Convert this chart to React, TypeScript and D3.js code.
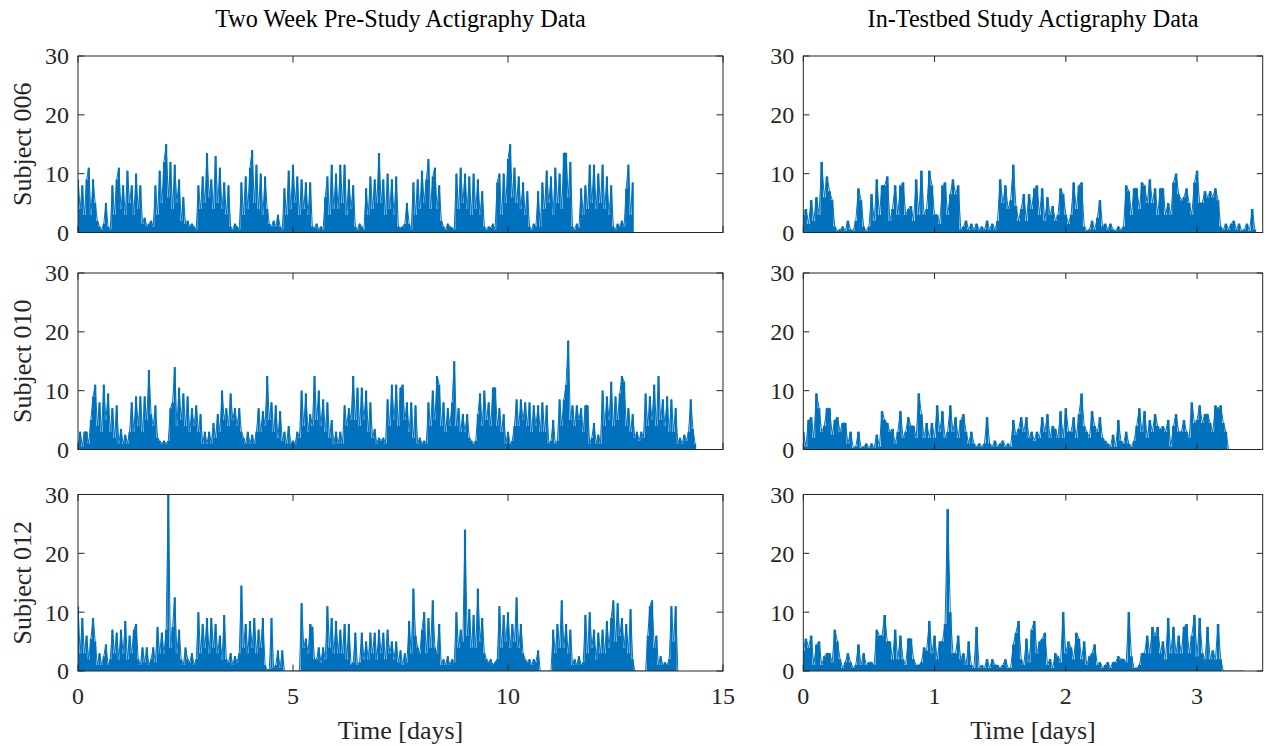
import React from "react";
import * as d3 from "d3";

// ---- data (activity counts, sampled at a fixed step in days) ----
const PRE_STEP = 0.05;
const TESTBED_STEP = 0.02;

const preStudy006: number[] = [
  9,4,8,3,9,11,3,9,5,2, 1,0.5,1.5,5,1,0.5, 8,3,9,11,
  4,8,3,10.5,5,8,3,10,4,8, 1.5,2.5,1,1.5,2,1, 8,3,10.5,5,
  12,15,6,12,4,11.5,5,9,2,6, 1.5,2,1,1.5,1,0.5, 8,4,9.5,5,
  13.5,6,9,4,13,5,11,4,8.5,3,8, 1,0.5,1.5,1,0.5, 8.5,3,9.5,4,
  11,14,5,11.5,4,10,3,9.5,4,1.5, 1,2,1,3,1,0.5, 7.5,3,10.5,4,
  11.5,5,9.5,3,9,4,8.5,3,8.5,1, 0.8,1.5,0.5,1,0.5, 6,9.5,3,11.5,4,
  10,4,11.5,5,11.5,3,9,4,8, 1,0.5,1.5,1,0.5, 7.5,3,9.5,4,9,5,
  13.5,5,9,3,10,4,9,3,9.5, 1,0.8,1,1.5,5,1.5,0.5, 8.5,3,9,4,
  10.5,5,9,12.5,4,9.5,11,4,8,2, 1,0.5,1.5,1,0.8,0.5, 10,4,11,5,
  10,4,9.5,3,10,4,9,3,7, 1,0.5,1,0.8,1.5,0.5, 8.5,10,3,10,5,
  12.5,15,6,11,5,9.5,4,8.5,3,7, 1,0.5,1.5,1,7,1, 8.5,4,10.5,5,
  9.5,3,11,5,10,4,13.5,13.5,6,12, 1,0.5,1.5,0.8, 7.5,3,8,4,11.5,5,
  11.5,4,10,5,11.5,4,9.5,3,8, 1,0.5,1.5,1,2,1, 7.5,11.5,3,8.5,
];

const preStudy010: number[] = [
  0.5,3,0.5,3,3,1,5,9,11,4,8,3,11,5,9.5,3,7,2,7.5,1,
  3.5,1,2.5,1,3,8,3,9,4,9,3,9,5,13.5,6,4,7.5,2,1.5,1,
  1.5,1,1.5,7,8,14,4,10.5,5,9.5,4,9,3,7,4,7.5,3,6,1,3,
  1,3,1,4.5,2,6,3,10,5,7,4,9.5,5,7,4,7,3,2,1,3,
  1,2.5,1,3,7,3,6.5,4,12.5,5,8,3,7.5,2,6.5,1.5,3,1,4,1,
  1.5,1,3,2,10,4,9.5,3,6,4,12.5,5,10,4,8.5,3,8,2,5,1,
  3,1,3,1,7.5,4,7,5,12.5,5,10.5,4,10.5,5,10,3,8,2,3.5,1,
  2,1.5,2,1,8.5,4,11,5,11,4,10.5,11,5,8,3,8,2,7.5,1,2,
  1,1.5,1,8,4,10,5,12.5,11,4,8,3,7,4,8,15,4,7,3,6,
  3,6,2,1.5,1,1.5,6,9.5,4,10,5,8,4,10.5,10.5,4,7,3,6,1,
  3,1,1.5,4,8.5,4,8.5,5,8,4,8,3,7.5,4,7.5,3,8,3,7.5,1,
  1.5,5,1,1.5,8.5,4,8.5,11,18.5,5,7.5,4,7.5,5,7,3,7.5,7.5,1,2,
  4.5,1,2.5,1,10,4,9,5,11.5,4,9,5,9.5,12.5,11.5,4,7,3,6,2,
  3,1.5,3,2,9.5,4,9,5,11,4,12.5,5,8.5,4,9,3,8.5,3,7,1,
  2,1,2.5,1.5,3,8.5,3.5,1,
];

const preStudy012: number[] = [
  11,3,9,3,6,2,5.5,9,5,1,3,1,2.5,4.5,1,2,7,3,6.5,2,
  7,3,8.5,2,6,3,7,8,2,1,4,1.5,4,1,2,4,1.5,7.5,3,6.5,
  3,7,30,4,7.5,12.5,3,7,2,1,4,2,1.5,3,1,2,10,3,8,4,
  9,3,9,4,8,3,6,2,9.5,2,1.5,3,1,2.5,1.5,3,14.5,4,8,3,
  8.5,4,9,3,7,4,9,1,0.2,0.3,9,0.5,1,3.5,0.5,3.5,0,0,0,0,
  0,0,0,0,11.5,4,5.5,3,8,7.5,2,2,4,1.5,4,2,11,4,9,3,
  8.5,3,7,3,8,2,8,1,1.5,6.5,1,1.5,6.5,2,5,2,6.5,3,6.5,2,
  7,3,6.5,2,7,3,5,2,5,1.5,3.5,1,3,1.5,8.5,3,14,6,4,3,
  7,10,3,9,4,12,4,3,8,1,2,1,2.5,1,2,1.5,10,4,7,5,
  24,6,10.5,4,9.5,4,14,5,9,3,2,1.5,2,1,1.5,2,11,4,9.5,5,
  10,4,8,5,12.5,4,8,3,2,1.5,2,1,2,1.5,3.5,0,0,0,0,0,
  0,7,3,8,4,12,4,8,3,7,1,2,1,2.5,1,1.5,9.5,3,10,4,
  7,2,6.5,3,7,3,8.5,4,9,12,5,11.5,6,9,4,8,3,10.5,2,0,
  0,0,0,0,0,6,11,12,4,6,1,2.5,1,1.5,1,2,11,5,11,0,
];

const testbed006: number[] = [
  3,4,1.5,5.5,2,6,3,12,6,9.5,
  7,5.5,1,0.3,0.5,1,0.3,2,0.5,0.3,
  2,7.5,5.5,1,0.3,1,6.5,2,9,3,
  8,8,9.5,2,4,8,3,8,8.5,3,
  4,4.5,2,9,3,10.5,3,4,10.5,8,
  3,3,1.5,8,8.5,3,6.5,9,6.5,8,
  0.5,1,2,0.5,1.5,0.5,1.5,0.5,1,0.5,
  2,0.5,1.5,0.5,2,9,5,8,4,5.5,
  11.5,4.5,2,4,6.5,2,6.5,4,7.5,8,
  3,7.5,2,6,3,4.5,2,3,7.5,6.5,
  3,1.5,3,8.5,4,8,8.5,1,0.3,0.5,
  2,0.5,2.5,5.5,1,1.5,0.5,1.5,0.5,0.3,
  1,0.5,1,8,7,3,7.5,7.5,4,8.5,
  8,5,9,5,7.5,3,7.5,7.5,3,5,
  3,8.5,10,6.5,5.5,6,7.5,5,3,8.5,
  10.5,5,5,7,6,7,6,7.5,5.5,1,
  0.5,1.5,0.5,1.5,2,0.5,1.5,0.3,0.5,1.5,0.3,4,0.5,
];

const testbed010: number[] = [
  3,0.5,5,5.5,2,9.5,7,3,4,7,
  7,2.5,5,5.5,3,4.5,4.5,1,3,0.3,
  0.5,3,0.3,0.5,1,0.3,1,0.3,2.5,0.5,
  6.5,5,4.5,3,3.5,1,3,6.5,2,3,
  5.5,4,4,2,9.5,6,2,4.5,2,4.5,
  2,7.5,3,6.5,2,3,7.5,3,5.5,2,
  5,6,3,1,3,1,0.5,1,0.5,1,
  5.5,1,0.5,1.5,0.5,1,1.5,0.5,1,0.5,
  5,2.5,3.5,5.5,3,5.5,2,3,1.5,3,
  2,5.5,3,6,2,4,3.5,2,6.5,2,
  7,3,3,5.5,2,6,9.5,4,3,2,
  6.5,4,3,5.5,2,1.5,1,0.5,2.5,0.5,
  5,1.5,1,3,1,0.5,1.5,4,7,3,
  6.5,2,5,3,6,4,3.5,4,3,5,
  0.5,4,6,3,3,5,3,2,8,4.5,
  5,7.5,4.5,6,6,4.5,3,7.5,7,7.5,
  4.5,3,0,0,0,0,0,0,0,0,0,0,0,0,0,0,
];

const testbed012: number[] = [
  3.5,5.5,4,6,1,4.5,5,1,2.5,3,
  3,1.5,7,5,2,0.5,1.5,3,1.5,0.5,
  1,4.5,1,3,1,1.5,1.5,1,7,6,
  6,9.5,5,5,2,7,2,6,2,1,
  5.5,5.5,2,1,1,1.5,4,3.5,8.5,3,
  6,2,5,5,8,27.5,10,3,3,6,
  2,3,1,5,1,0.5,7.5,0.5,1,0.5,
  2,0.5,2,1,1,0.5,1,2,0.5,0.5,
  4.5,6.5,8.5,2,1,5.5,1.5,7,8.5,3,
  5,5.5,6.5,1,2,0.5,3,2.5,1.5,10,
  3,5,4,2,6.5,5.5,2,5,1,2.5,
  3,4.5,1,1.5,0.5,1,1.5,0.5,1.5,1.5,
  2.5,2,2,1.5,10,2.5,0.5,0.5,1,3,
  3,6,3,7.5,6,7.5,3,5,2,9,
  3,7.5,3,6,3,7.5,8,3,6,9.5,
  2.5,9,3,2,7.5,2,3.5,2,8,2,
  0,0,0,0,0,0,0,0,0,
];

const subjects = ["Subject 006", "Subject 010", "Subject 012"];
const columnTitles = ["Two Week Pre-Study Actigraphy Data", "In-Testbed Study Actigraphy Data"];
const preXTicks = [0, 5, 10, 15];
const testbedXTicks = [0, 1, 2, 3];
const yTicks = [0, 10, 20, 30];
const xLabel = "Time [days]";

// ---- layout ----
const W = 1267;
const H = 746;
const rowTops = [56, 273, 494.5];
const rowH = 176.5;
const cols = [
  { x0: 78, x1: 723, domain: [0, 15], ticks: preXTicks, step: PRE_STEP, data: [preStudy006, preStudy010, preStudy012], tickLen: 6.5, stem: 2.2 },
  { x0: 803.3, x1: 1262.7, domain: [0, 3.5], ticks: testbedXTicks, step: TESTBED_STEP, data: [testbed006, testbed010, testbed012], tickLen: 6, stem: 2.65 },
];

const BLUE = "#0072BD";
const AX = "#262626";
const FONT = "'Liberation Serif', 'Times New Roman', serif";

export default function App() {
  return (
    <svg width={W} height={H} style={{ position: "absolute", left: 0, top: 0, background: "#fff" }} xmlns="http://www.w3.org/2000/svg">
      <rect x={0} y={0} width={W} height={H} fill="#fff" />
      <defs>
        {cols.map((c, ci) =>
          rowTops.map((t, ri) => (
            <clipPath id={`clip-${ci}-${ri}`} key={`${ci}-${ri}`}>
              <rect x={c.x0} y={t} width={c.x1 - c.x0} height={rowH} />
            </clipPath>
          ))
        )}
      </defs>
      {columnTitles.map((title, ci) => (
        <text key={title} x={(cols[ci].x0 + cols[ci].x1) / 2} y={27} textAnchor="middle" fontFamily={FONT} fontSize={24.2} fill="#000">
          {title}
        </text>
      ))}
      {cols.map((c, ci) => {
        const x = d3.scaleLinear().domain(c.domain).range([c.x0, c.x1]);
        return rowTops.map((top, ri) => {
          const bottom = top + rowH;
          const y = d3.scaleLinear().domain([0, 30]).range([bottom, top]);
          const series = c.data[ri];
          const line = d3.line<number>().x((_, i) => x(i * c.step)).y((d) => y(d));
          const stems = series.map((v, i) => `M${x(i * c.step)},${y(0)}V${y(v)}`).join("");
          const isBottom = ri === rowTops.length - 1;
          return (
            <g key={`${ci}-${ri}`}>
              <g clipPath={`url(#clip-${ci}-${ri})`}>
                <path d={stems} fill="none" stroke={BLUE} strokeWidth={c.stem} />
                <path d={line(series) || ""} fill="none" stroke={BLUE} strokeWidth={1} strokeLinejoin="miter" />
              </g>
              <rect x={c.x0} y={top} width={c.x1 - c.x0} height={rowH} fill="none" stroke={AX} strokeWidth={1} />
              {c.ticks.map((tv) => (
                <g key={`xt${tv}`}>
                  <line x1={x(tv)} x2={x(tv)} y1={bottom} y2={bottom - c.tickLen} stroke={AX} strokeWidth={1} />
                  <line x1={x(tv)} x2={x(tv)} y1={top} y2={top + c.tickLen} stroke={AX} strokeWidth={1} />
                  {isBottom && (
                    <text x={x(tv)} y={704} textAnchor="middle" fontFamily={FONT} fontSize={24} fill={AX}>
                      {tv}
                    </text>
                  )}
                </g>
              ))}
              {yTicks.map((tv) => (
                <g key={`yt${tv}`}>
                  <line x1={c.x0} x2={c.x0 + c.tickLen} y1={y(tv)} y2={y(tv)} stroke={AX} strokeWidth={1} />
                  <line x1={c.x1} x2={c.x1 - c.tickLen} y1={y(tv)} y2={y(tv)} stroke={AX} strokeWidth={1} />
                  <text x={c.x0 - 9} y={y(tv)} dy="0.35em" textAnchor="end" fontFamily={FONT} fontSize={24} fill={AX}>
                    {tv}
                  </text>
                </g>
              ))}
              {ci === 0 && (
                <text transform={`translate(31,${(top + bottom) / 2}) rotate(-90)`} textAnchor="middle" fontFamily={FONT} fontSize={26} fill={AX}>
                  {subjects[ri]}
                </text>
              )}
              {isBottom && (
                <text x={(c.x0 + c.x1) / 2} y={739} textAnchor="middle" fontFamily={FONT} fontSize={26} fill={AX}>
                  {xLabel}
                </text>
              )}
            </g>
          );
        });
      })}
    </svg>
  );
}
